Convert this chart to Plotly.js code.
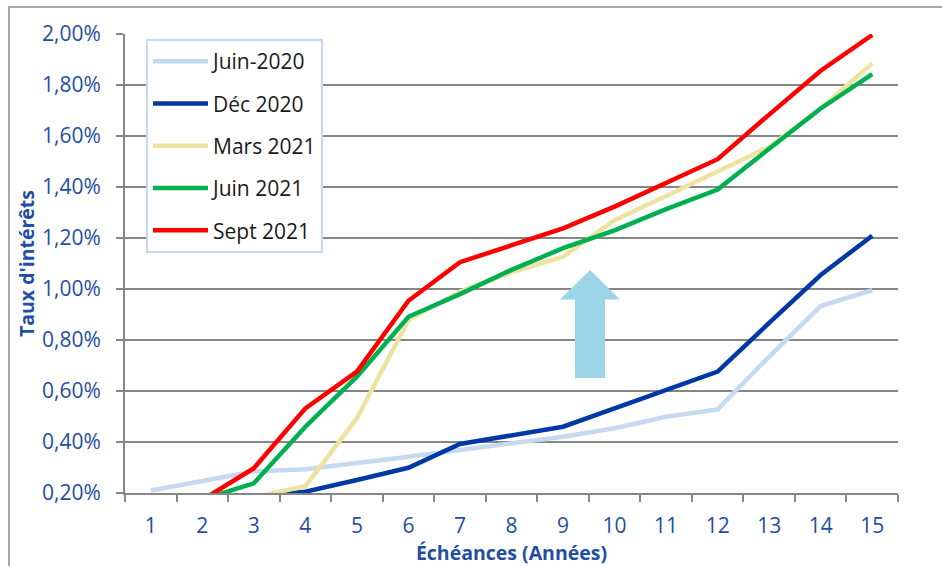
<!DOCTYPE html>
<html>
<head>
<meta charset="utf-8">
<script src="https://cdn.plot.ly/plotly-3.0.1.min.js"></script>
<style>html,body{margin:0;padding:0;background:#fff;}#chart{width:942px;height:566px;}</style>
</head>
<body>
<div id="chart"></div>
<script>
const categories = ['1','2','3','4','5','6','7','8','9','10','11','12','13','14','15'];
const seriesNames = ['Juin-2020', 'Déc 2020', 'Mars 2021', 'Juin 2021', 'Sept 2021'];
const juin2020 = [0.21, 0.247, 0.284, 0.293, 0.316, 0.342, 0.369, 0.395, 0.421, 0.454, 0.499, 0.528, 0.735, 0.933, 0.995];
const dec2020  = [0.12, 0.15, 0.185, 0.205, 0.251, 0.299, 0.392, 0.427, 0.46, 0.532, 0.604, 0.676, 0.867, 1.055, 1.209];
const mars2021 = [0.10, 0.13, 0.183, 0.227, 0.493, 0.878, 0.99, 1.065, 1.127, 1.27, 1.365, 1.46, 1.558, 1.708, 1.885];
const juin2021 = [0.12, 0.175, 0.238, 0.46, 0.656, 0.891, 0.98, 1.075, 1.16, 1.23, 1.313, 1.39, 1.55, 1.708, 1.843];
const sept2021 = [0.13, 0.173, 0.297, 0.532, 0.676, 0.954, 1.105, 1.173, 1.238, 1.323, 1.414, 1.509, 1.684, 1.856, 1.996];
const yTickVals = [0.2, 0.4, 0.6, 0.8, 1.0, 1.2, 1.4, 1.6, 1.8, 2.0];
const yTickText = yTickVals.map(v => v.toFixed(2).replace('.', ',') + '%');

const colors = ['#c6d9f1', '#0039a6', '#ede3a0', '#00b050', '#ff0000'];
const allSeries = [juin2020, dec2020, mars2021, juin2021, sept2021];
const blue = '#1f4ea3';
const fontFam = '"Open Sans", Lato, sans-serif';

const traces = allSeries.map((vals, i) => ({
  type: 'scatter',
  mode: 'lines',
  x: categories,
  y: vals,
  name: seriesNames[i],
  legendgroup: 'g' + i,
  line: {color: colors[i], width: 4.5},
  hoverinfo: 'x+y+name'
}));

const X = px => (px - 125) / 773;
const Y = py => (493 - py) / 459;
const arrowPath = 'M ' + X(590) + ' ' + Y(270) +
  ' L ' + X(620) + ' ' + Y(299.5) +
  ' L ' + X(605) + ' ' + Y(299.5) +
  ' L ' + X(605) + ' ' + Y(378) +
  ' L ' + X(575) + ' ' + Y(378) +
  ' L ' + X(575) + ' ' + Y(299.5) +
  ' L ' + X(560) + ' ' + Y(299.5) + ' Z';

const layout = {
  width: 942, height: 566,
  margin: {l: 125, r: 44, t: 34, b: 73},
  paper_bgcolor: '#ffffff',
  plot_bgcolor: '#ffffff',
  font: {family: fontFam, color: blue, size: 20},
  showlegend: true,
  legend: {
    x: X(146), y: Y(39), xanchor: 'left', yanchor: 'top',
    bgcolor: '#ffffff', bordercolor: '#c6d9f1', borderwidth: 2,
    font: {family: fontFam, size: 21, color: '#1a1a1a'},
    traceorder: 'grouped', tracegroupgap: 12,
    itemwidth: 55
  },
  xaxis: {
    type: 'category',
    range: [-0.5, 14.5],
    tickson: 'boundaries',
    ticks: 'outside', ticklen: 7, tickwidth: 2, tickcolor: '#868686',
    showline: true, linecolor: '#868686', linewidth: 2,
    showgrid: false,
    tickfont: {family: fontFam, size: 21, color: blue},
    ticklabelstandoff: 13,
    title: {text: '<b>Échéances (Années)</b>', font: {family: fontFam, size: 19.5, color: blue}, standoff: 3},
    fixedrange: true
  },
  yaxis: {
    range: [0.2, 2.0],
    tickvals: yTickVals,
    ticktext: yTickText,
    ticks: 'outside', ticklen: 7, tickwidth: 2, tickcolor: '#868686',
    showline: true, linecolor: '#868686', linewidth: 2,
    showgrid: true, gridcolor: '#868686', gridwidth: 2,
    zeroline: false,
    tickfont: {family: fontFam, size: 21, color: blue},
    ticklabelstandoff: 11,
    title: {text: "<b>Taux d'intérêts</b>", font: {family: fontFam, size: 19.5, color: blue}, standoff: 2},
    fixedrange: true
  },
  shapes: [
    {type: 'path', xref: 'paper', yref: 'paper', path: arrowPath,
     fillcolor: '#9dd5e8', line: {width: 0}, layer: 'above'},
    {type: 'rect', xref: 'paper', yref: 'paper',
     x0: X(9), x1: X(1000), y0: Y(620), y1: Y(7),
     line: {color: '#8c8c8c', width: 1.5}, fillcolor: 'rgba(0,0,0,0)', layer: 'above'}
  ]
};

Plotly.newPlot('chart', traces, layout, {displayModeBar: false, staticPlot: true});
</script>
</body>
</html>
